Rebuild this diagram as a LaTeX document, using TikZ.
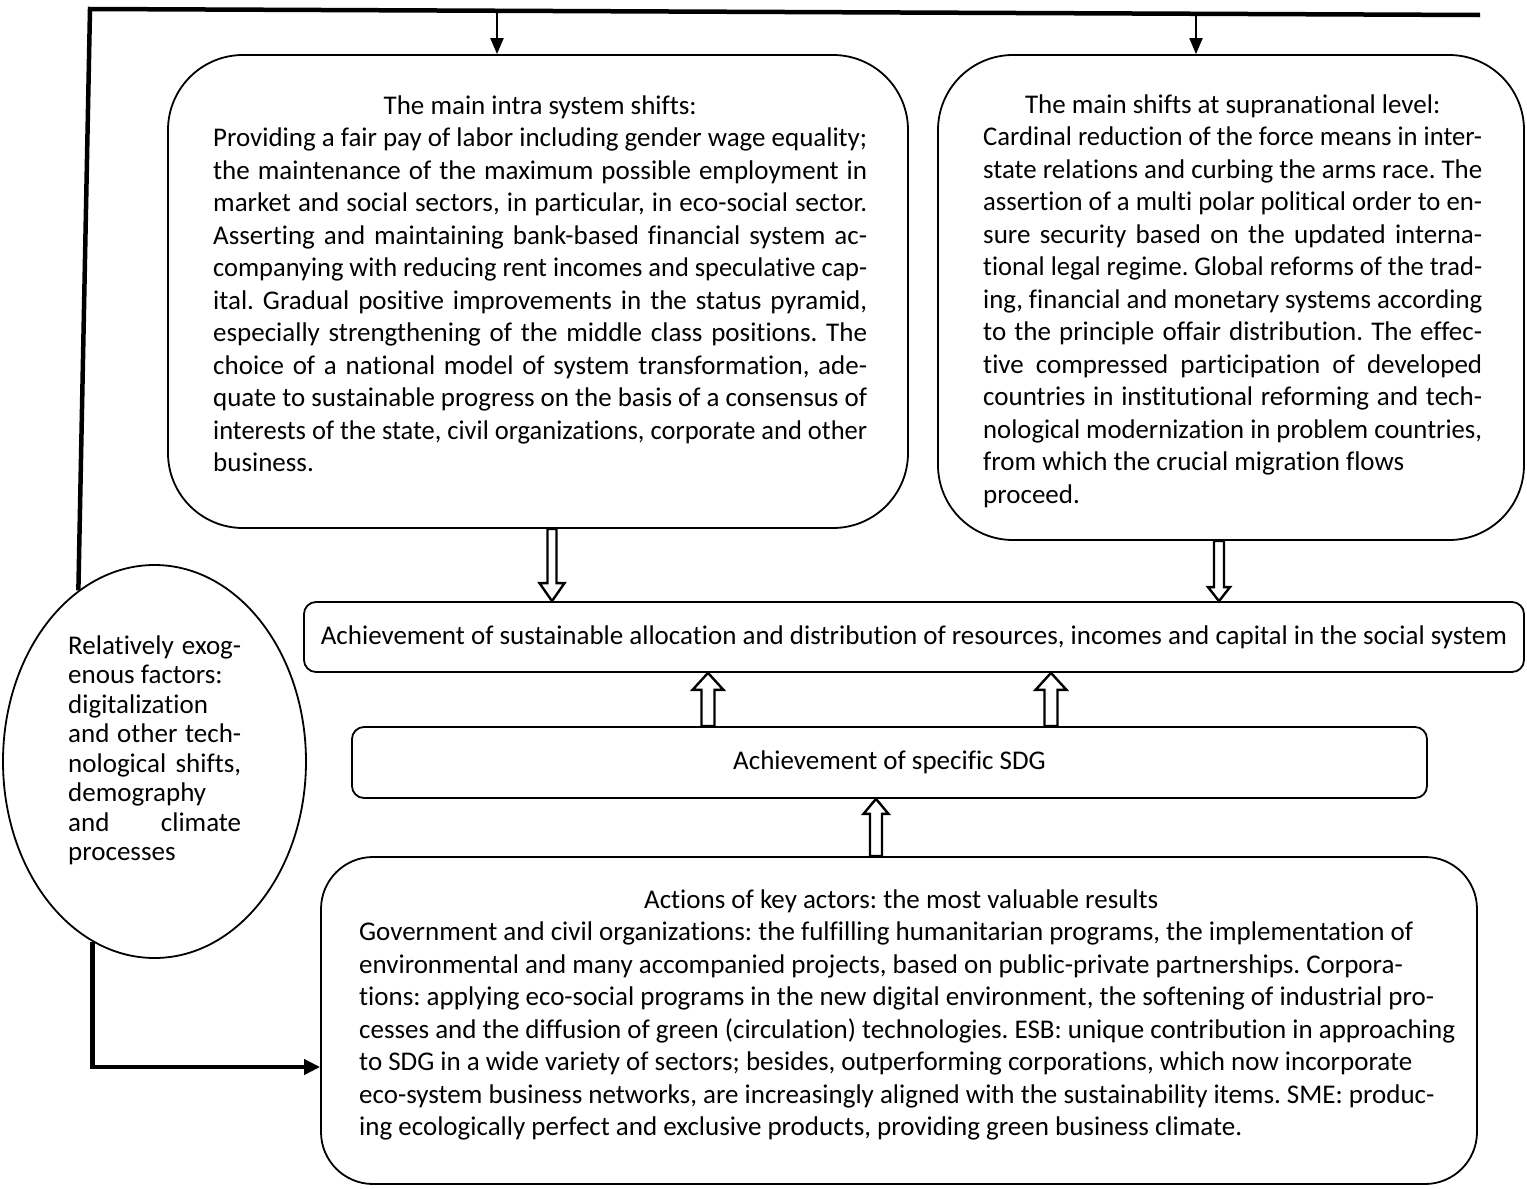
\documentclass[tikz,border=0pt]{standalone}
\usepackage{fontspec}
\setmainfont{Carlito}[Ligatures=NoCommon]
\usepackage{graphicx}
\usetikzlibrary{shapes.geometric,arrows.meta,calc}
\frenchspacing
\newlength\jlw
\newcommand\jl[1]{\sbox0{#1}\ifdim\wd0>\jlw\relax\resizebox{\jlw}{\height}{#1}\else\makebox[\jlw][s]{#1}\fi}
\hfuzz=\maxdimen
\hbadness=10000
\newcommand\blockarrow[5]{%
  \draw[barrowstyle] let \p1=(#1), \p2=(#2), \n1={sign(\y1-\y2)} in
    (\x2-#3,\y1) -- (\x2-#3,{\y2+\n1*#5}) -- (\x2-#4,{\y2+\n1*#5}) -- (\x2,\y2)
    -- (\x2+#4,{\y2+\n1*#5}) -- (\x2+#3,{\y2+\n1*#5}) -- (\x2+#3,\y1) -- cycle;}
\begin{document}
\begin{tikzpicture}[x=1pt,y=-1pt,
  box/.style={draw, line width=1.8pt, inner sep=0pt},
  thickline/.style={line width=4.5pt},
  thinarrow/.style={line width=2pt, -{Triangle[width=13pt,length=16pt]}},
  barrowstyle/.style={draw, line width=2.4pt, fill=white, line join=miter},
  txt/.style={inner sep=0pt, font=\fontsize{27pt}{32.5pt}\selectfont\frenchspacing}]
\useasboundingbox (0,0) rectangle (1527,1189);

% boxes
\node[box, rounded corners=75pt, minimum width=740pt, minimum height=473pt] (b1) at (538,291.5) {};
\node[box, rounded corners=75pt, minimum width=586pt, minimum height=485pt] (b2) at (1231,297.5) {};
\node[box, txt, rounded corners=12pt, minimum width=1220pt, minimum height=70pt] (b3) at (914,637)
  {Achievement of sustainable allocation and distribution of resources, incomes and capital in the social system};
\node[box, txt, rounded corners=12pt, minimum width=1075pt, minimum height=71pt] (b4) at (889.5,762.5)
  {Achievement of specific SDG};
\node[box, rounded corners=52pt, minimum width=1156pt, minimum height=327pt] (b5) at (899,1020.5) {};
\node[box, ellipse, minimum width=303pt, minimum height=393pt] (e) at (154.5,761.5) {};

% texts
\node[txt, anchor=base west] (t1) at (213,114.3) {\parbox[t]{654pt}{\setlength\jlw{654pt}%
\makebox[\jlw][c]{The main intra system shifts:}\\
\jl{Providing a fair pay of labor including gender wage equality;}\\
\jl{the maintenance of the maximum possible employment in}\\
\jl{market and social sectors, in particular, in eco-social sector.}\\
\jl{Asserting and maintaining bank-based financial system ac-}\\
\jl{companying with reducing rent incomes and speculative cap-}\\
\jl{ital. Gradual positive improvements in the status pyramid,}\\
\jl{especially strengthening of the middle class positions. The}\\
\jl{choice of a national model of system transformation, ade-}\\
\jl{quate to sustainable progress on the basis of a consensus of}\\
\jl{interests of the state, civil organizations, corporate and other}\\
\mbox{business.}}};

\node[txt, anchor=base west] (t2) at (983,113.3) {\parbox[t]{499pt}{\setlength\jlw{499pt}%
\makebox[\jlw][c]{The main shifts at supranational level:}\\
\jl{Cardinal reduction of the force means in inter-}\\
\jl{state relations and curbing the arms race. The}\\
\jl{assertion of a multi polar political order to en-}\\
\jl{sure security based on the updated interna-}\\
\jl{tional legal regime. Global reforms of the trad-}\\
\jl{ing, financial and monetary systems according}\\
\jl{to the principle offair distribution. The effec-}\\
\jl{tive compressed participation of developed}\\
\jl{countries in institutional reforming and tech-}\\
\jl{nological modernization in problem countries,}\\
\mbox{from which the crucial migration flows}\\
\mbox{proceed.}}};

\node[txt, anchor=base west] (t5) at (359,908.3) {\parbox[t]{1084pt}{%
\makebox[1084pt][c]{Actions of key actors: the most valuable results}\\
\mbox{Government and civil organizations: the fulfilling humanitarian programs, the implementation of}\\
\mbox{environmental and many accompanied projects, based on public-private partnerships. Corpora-}\\
\mbox{tions: applying eco-social programs in the new digital environment, the softening of industrial pro-}\\
\mbox{cesses and the diffusion of green (circulation) technologies. ESB: unique contribution in approaching}\\
\mbox{to SDG in a wide variety of sectors; besides, outperforming corporations, which now incorporate}\\
\mbox{eco-system business networks, are increasingly aligned with the sustainability items. SME: produc-}\\
\mbox{ing ecologically perfect and exclusive products, providing green business climate.}}};

\node[txt, font=\fontsize{27pt}{29.5pt}\selectfont, anchor=base west] (te) at (68,654) {\parbox[t]{173pt}{\setlength\jlw{173pt}%
\jl{Relatively exog-}\\
\mbox{enous factors:}\\
\mbox{digitalization}\\
\jl{and other tech-}\\
\jl{nological shifts,}\\
\mbox{demography}\\
\jl{and climate}\\
\mbox{processes}}};

% outer feedback line
\coordinate (tl) at (90,9);
\coordinate (tr) at (1480,15);
\draw[thickline] (e.114) -- (tl) -- (tr);
\coordinate (s1) at (497,11);
\coordinate (s2) at (1196,14);
\draw[thinarrow] (s1) -- (s1 |- b1.north);
\draw[thinarrow] (s2) -- (s2 |- b2.north);
\coordinate (k) at (0,1067);
\draw[thickline, -{Triangle[width=15pt,length=16pt]}] (e.251) |- (b5.west |- k);

% block arrows
\coordinate (c1) at (552,0);
\coordinate (c2) at (1219,0);
\coordinate (c3) at (708,0);
\coordinate (c4) at (1051,0);
\coordinate (c5) at (876,0);
\blockarrow{b1.south -| c1}{b3.north -| c1}{4.5pt}{12.5pt}{18pt}
\blockarrow{b2.south -| c2}{b3.north -| c2}{5pt}{11pt}{14pt}
\blockarrow{b4.north -| c3}{b3.south -| c3}{6.5pt}{15.5pt}{17pt}
\blockarrow{b4.north -| c4}{b3.south -| c4}{6.5pt}{15.5pt}{17pt}
\blockarrow{b5.north -| c5}{b4.south -| c5}{6pt}{12.5pt}{15pt}
\end{tikzpicture}
\end{document}
